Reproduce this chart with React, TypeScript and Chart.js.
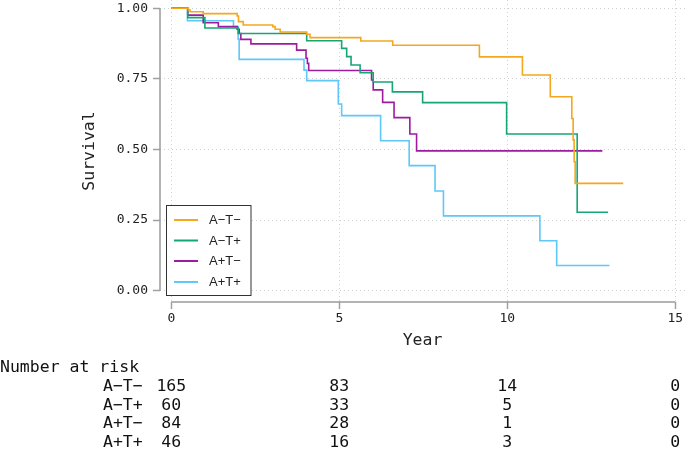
import React, { useEffect, useRef } from "react";
import { Chart, registerables } from "chart.js";

Chart.register(...registerables);

// ---- Data ----
const seriesLabels = ["A\u2212T\u2212", "A\u2212T+", "A+T\u2212", "A+T+"];
const seriesColors = ["#F4A81D", "#16A673", "#9C1C9F", "#5DC8F9"];

const timesAmTm = [0, 0.51, 0.56, 0.95, 1.96, 2.0, 2.14, 3.02, 3.09, 3.24, 4.03, 4.13, 5.64, 6.59, 9.17, 10.45, 11.28, 11.92, 11.96, 11.99, 12.02, 13.45];
const survAmTm = [1, 0.994, 0.988, 0.981, 0.973, 0.953, 0.941, 0.935, 0.926, 0.916, 0.908, 0.896, 0.884, 0.869, 0.828, 0.764, 0.687, 0.61, 0.534, 0.457, 0.38, 0.38];

const timesAmTp = [0, 0.49, 1.0, 1.99, 4.03, 5.07, 5.22, 5.35, 5.62, 6.01, 6.58, 7.48, 9.98, 12.08, 13.0];
const survAmTp = [1, 0.967, 0.93, 0.911, 0.885, 0.858, 0.829, 0.799, 0.772, 0.739, 0.704, 0.666, 0.555, 0.278, 0.278];

const timesApTm = [0, 0.49, 0.95, 1.4, 1.96, 2.02, 2.07, 2.37, 3.73, 4.01, 4.05, 4.09, 5.96, 6.01, 6.29, 6.63, 7.1, 7.3, 12.83];
const survApTm = [1, 0.976, 0.949, 0.935, 0.926, 0.911, 0.89, 0.874, 0.852, 0.823, 0.805, 0.78, 0.746, 0.711, 0.667, 0.613, 0.555, 0.495, 0.495];

const timesApTp = [0, 0.48, 1.85, 1.99, 2.02, 3.95, 4.03, 4.97, 5.07, 6.23, 7.08, 7.85, 8.1, 10.97, 11.47, 13.04];
const survApTp = [1, 0.956, 0.935, 0.891, 0.819, 0.781, 0.744, 0.661, 0.62, 0.531, 0.443, 0.353, 0.265, 0.177, 0.089, 0.089];

const seriesTimes = [timesAmTm, timesAmTp, timesApTm, timesApTp];
const seriesSurv = [survAmTm, survAmTp, survApTm, survApTp];

const xTicks = [0, 5, 10, 15];
const yTicks = [0, 0.25, 0.5, 0.75, 1];

const riskTitle = "Number at risk";
const riskTimes = [0, 5, 10, 15];
const riskAmTm = [165, 83, 14, 0];
const riskAmTp = [60, 33, 5, 0];
const riskApTm = [84, 28, 1, 0];
const riskApTp = [46, 16, 3, 0];
const riskRows = [riskAmTm, riskAmTp, riskApTm, riskApTp];

const MONO = "'DejaVu Sans Mono', monospace";
const SANS = "'Liberation Sans', Arial, sans-serif";

export default function App() {
  const ref = useRef<HTMLCanvasElement>(null);

  useEffect(() => {
    const canvas = ref.current;
    if (!canvas) return;

    const offsetAxes = {
      id: "offsetAxes",
      beforeDatasetsDraw(chart: any) {
        const { ctx, chartArea, scales } = chart;
        const xs = scales.x;
        const ys = scales.y;
        ctx.save();
        ctx.strokeStyle = "#9a9a9a";
        ctx.lineWidth = 1.5;
        ctx.beginPath();
        ctx.moveTo(chartArea.left, ys.getPixelForValue(yTicks[0]));
        ctx.lineTo(chartArea.left, ys.getPixelForValue(yTicks[yTicks.length - 1]));
        ctx.stroke();
        ctx.beginPath();
        ctx.moveTo(xs.getPixelForValue(xTicks[0]), chartArea.bottom);
        ctx.lineTo(xs.getPixelForValue(xTicks[xTicks.length - 1]), chartArea.bottom);
        ctx.stroke();
        ctx.restore();
      },
      afterDatasetsDraw(chart: any) {
        const { ctx } = chart;
        // legend box
        const bx = 166.5, by = 205.5, bw = 84.5, bh = 90;
        ctx.save();
        ctx.fillStyle = "#ffffff";
        ctx.fillRect(bx, by, bw, bh);
        ctx.strokeStyle = "#333333";
        ctx.lineWidth = 1;
        ctx.strokeRect(bx, by, bw, bh);
        const rowY = [220, 240.5, 261, 282];
        chart.data.datasets.forEach((ds: any, i: number) => {
          ctx.strokeStyle = ds.borderColor;
          ctx.lineWidth = 2;
          ctx.beginPath();
          ctx.moveTo(174, rowY[i]);
          ctx.lineTo(198, rowY[i]);
          ctx.stroke();
          ctx.fillStyle = "#222222";
          ctx.font = `13px ${SANS}`;
          ctx.textAlign = "left";
          ctx.textBaseline = "middle";
          ctx.fillText(ds.label, 209, rowY[i] + 0.5);
        });
        ctx.restore();
      },
      afterDraw(chart: any) {
        const { ctx, scales } = chart;
        const xs = scales.x;
        ctx.save();
        ctx.fillStyle = "#111111";
        ctx.font = `16.5px ${MONO}`;
        ctx.textBaseline = "middle";
        ctx.textAlign = "left";
        ctx.fillText(riskTitle, 0, 368);
        const rowY = [387, 405.5, 424, 442.5];
        riskRows.forEach((row, i) => {
          ctx.textAlign = "left";
          ctx.fillText(seriesLabels[i], 103, rowY[i]);
          ctx.textAlign = "center";
          row.forEach((v, j) => {
            ctx.fillText(String(v), xs.getPixelForValue(riskTimes[j]), rowY[i]);
          });
        });
        ctx.restore();
      },
    };

    const gridOpts = {
      color: "#cfcfcf",
      lineWidth: 1,
      drawTicks: true,
      tickLength: 7,
      tickColor: "#a0a0a0",
      tickWidth: 1.5,
      tickBorderDash: [],
    };

    const chart = new Chart(canvas, {
      type: "line",
      data: {
        datasets: seriesLabels.map((label, i) => ({
          label,
          data: seriesTimes[i].map((t, k) => ({ x: t, y: seriesSurv[i][k] })),
          borderColor: seriesColors[i],
          backgroundColor: seriesColors[i],
          borderWidth: 1.6,
          pointRadius: 0,
          stepped: true,
          fill: false,
          tension: 0,
        })),
      },
      options: {
        responsive: false,
        animation: false,
        devicePixelRatio: 1,
        layout: { padding: { left: 80, top: 0, right: 0, bottom: 102 } },
        plugins: {
          legend: { display: false },
          tooltip: { enabled: false },
          title: { display: false },
        },
        scales: {
          x: {
            type: "linear",
            min: -0.336,
            max: 15.289,
            afterBuildTicks: (s: any) => {
              s.ticks = xTicks.map((v) => ({ value: v }));
            },
            afterFit: (s: any) => {
              s.height = 49;
              s.paddingLeft = 0;
              s.paddingRight = 0;
            },
            ticks: {
              font: { family: MONO, size: 13 },
              color: "#222222",
              padding: 2,
              maxRotation: 0,
              autoSkip: false,
              callback: (v: any) => String(v),
            },
            grid: gridOpts,
            border: { display: false, dash: [1, 3] },
            title: {
              display: true,
              text: "Year",
              font: { family: MONO, size: 16.5 },
              color: "#222222",
              padding: 0,
            },
          },
          y: {
            type: "linear",
            min: -0.04,
            max: 1.0294,
            afterBuildTicks: (s: any) => {
              s.ticks = yTicks.map((v) => ({ value: v }));
            },
            afterFit: (s: any) => {
              s.width = 80;
              s.paddingTop = 0;
              s.paddingBottom = 0;
            },
            ticks: {
              font: { family: MONO, size: 13 },
              color: "#222222",
              padding: 5,
              autoSkip: false,
              callback: (v: any) => Number(v).toFixed(2),
            },
            grid: gridOpts,
            border: { display: false, dash: [1, 3] },
            title: {
              display: true,
              text: "Survival",
              font: { family: MONO, size: 16.5 },
              color: "#222222",
              padding: 0,
            },
          },
        },
      },
      plugins: [offsetAxes],
    } as any);

    return () => chart.destroy();
  }, []);

  return (
    <div style={{ position: "absolute", left: 0, top: 0, width: 685, height: 453, background: "#ffffff" }}>
      <canvas ref={ref} width={685} height={453} style={{ display: "block" }} />
    </div>
  );
}
